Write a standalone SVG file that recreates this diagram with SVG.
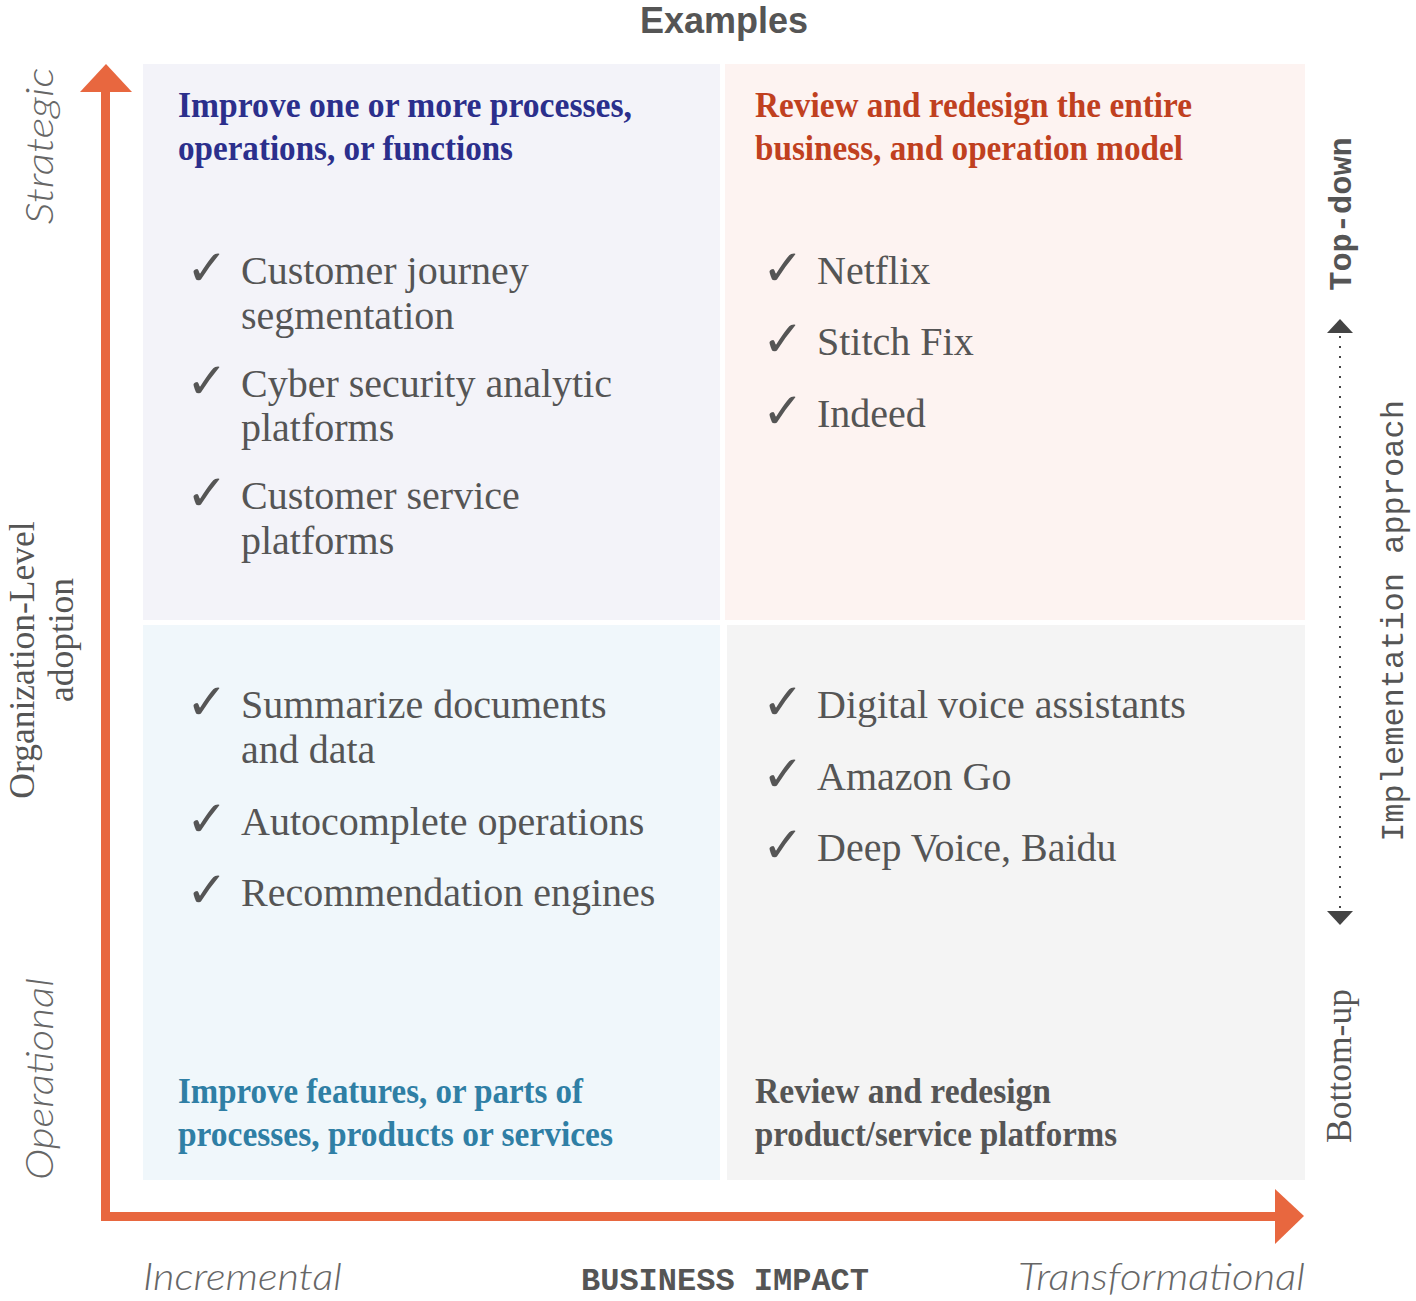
<svg xmlns="http://www.w3.org/2000/svg" width="1416" height="1301" viewBox="0 0 1416 1301">
<style>
.head{font-family:"Liberation Serif",serif;font-weight:bold;font-size:35px}
.item{font-family:"Liberation Serif",serif;font-size:40px;fill:#555}
.chk{font-family:"DejaVu Sans",sans-serif;font-size:50px;fill:#555}
.axl{font-family:"Lato","Liberation Sans",sans-serif;font-style:italic;font-weight:300;font-size:38px;fill:#666}
.mono{font-family:"Liberation Mono",monospace;font-size:32px;fill:#555}
.ser{font-family:"Liberation Serif",serif;font-size:35.5px;fill:#555}
</style>
<rect width="1416" height="1301" fill="#fff"/>
<text x="724" y="33" text-anchor="middle" font-family="Liberation Sans,sans-serif" font-weight="bold" font-size="36" fill="#555">Examples</text>

<g id="q-tl">
<rect x="143" y="64" width="577" height="556" fill="#f3f3f9"/>
<text class="head" fill="#2b2f8c" x="178" y="117" textLength="454" lengthAdjust="spacingAndGlyphs">Improve one or more processes,</text>
<text class="head" fill="#2b2f8c" x="178" y="160" textLength="335" lengthAdjust="spacingAndGlyphs">operations, or functions</text>
<text class="chk" x="186" y="285">✓</text><text class="item" x="241" y="284">Customer journey</text>
<text class="item" x="241" y="329">segmentation</text>
<text class="chk" x="186" y="398">✓</text><text class="item" x="241" y="397">Cyber security analytic</text>
<text class="item" x="241" y="441">platforms</text>
<text class="chk" x="186" y="510">✓</text><text class="item" x="241" y="509">Customer service</text>
<text class="item" x="241" y="554">platforms</text>
</g>

<g id="q-tr">
<rect x="725" y="64" width="580" height="556" fill="#fdf3f1"/>
<text class="head" fill="#c0401f" x="755" y="117" textLength="437" lengthAdjust="spacingAndGlyphs">Review and redesign the entire</text>
<text class="head" fill="#c0401f" x="755" y="160" textLength="428" lengthAdjust="spacingAndGlyphs">business, and operation model</text>
<text class="chk" x="762" y="285">✓</text><text class="item" x="817" y="284">Netflix</text>
<text class="chk" x="762" y="356">✓</text><text class="item" x="817" y="355">Stitch Fix</text>
<text class="chk" x="762" y="428">✓</text><text class="item" x="817" y="427">Indeed</text>
</g>

<g id="q-bl">
<rect x="143" y="625" width="577" height="555" fill="#f0f7fb"/>
<text class="chk" x="186" y="719">✓</text><text class="item" x="241" y="718">Summarize documents</text>
<text class="item" x="241" y="763">and data</text>
<text class="chk" x="186" y="836">✓</text><text class="item" x="241" y="835">Autocomplete operations</text>
<text class="chk" x="186" y="907">✓</text><text class="item" x="241" y="906">Recommendation engines</text>
<text class="head" fill="#2f7fa5" x="178" y="1103" textLength="405" lengthAdjust="spacingAndGlyphs">Improve features, or parts of</text>
<text class="head" fill="#2f7fa5" x="178" y="1146" textLength="435" lengthAdjust="spacingAndGlyphs">processes, products or services</text>
</g>

<g id="q-br">
<rect x="727" y="625" width="578" height="555" fill="#f4f4f4"/>
<text class="chk" x="762" y="719">✓</text><text class="item" x="817" y="718">Digital voice assistants</text>
<text class="chk" x="762" y="791">✓</text><text class="item" x="817" y="790">Amazon Go</text>
<text class="chk" x="762" y="862">✓</text><text class="item" x="817" y="861">Deep Voice, Baidu</text>
<text class="head" fill="#555" x="755" y="1103" textLength="296" lengthAdjust="spacingAndGlyphs">Review and redesign</text>
<text class="head" fill="#555" x="755" y="1146" textLength="362" lengthAdjust="spacingAndGlyphs">product/service platforms</text>
</g>

<g id="connectors">
<g id="axes" fill="#e8673f">
<rect x="101" y="90" width="9" height="1131"/>
<polygon points="80,92 132,92 106,64"/>
<rect x="101" y="1212" width="1176" height="9"/>
<polygon points="1275,1189 1275,1244 1304,1216"/>
</g>
<g id="impl-arrow" fill="#444">
<line x1="1340" y1="336" x2="1340" y2="910" stroke="#444" stroke-width="2" stroke-dasharray="2,8"/>
<polygon points="1327,333 1353,333 1340,319"/>
<polygon points="1327,911 1353,911 1340,925"/>
</g>
</g>

<g id="labels">
<text class="axl" transform="translate(53,146) rotate(-90)" text-anchor="middle" textLength="157" lengthAdjust="spacingAndGlyphs">Strategic</text>
<text class="axl" transform="translate(53,1079) rotate(-90)" text-anchor="middle" textLength="202" lengthAdjust="spacingAndGlyphs">Operational</text>
<text class="ser" transform="translate(34,660) rotate(-90)" text-anchor="middle">Organization-Level</text>
<text class="ser" transform="translate(73,640) rotate(-90)" text-anchor="middle">adoption</text>
<text class="mono" font-weight="bold" transform="translate(1351,214) rotate(-90)" text-anchor="middle">Top-down</text>
<text class="mono" transform="translate(1403,621) rotate(-90)" text-anchor="middle">Implementation approach</text>
<text class="ser" transform="translate(1351,1066) rotate(-90)" text-anchor="middle">Bottom-up</text>
<text class="axl" x="143" y="1290" textLength="199" lengthAdjust="spacingAndGlyphs">Incremental</text>
<text class="mono" font-weight="bold" x="725" y="1290" text-anchor="middle">BUSINESS IMPACT</text>
<text class="axl" x="1018" y="1290" textLength="287" lengthAdjust="spacingAndGlyphs">Transformational</text>
</g>
</svg>
